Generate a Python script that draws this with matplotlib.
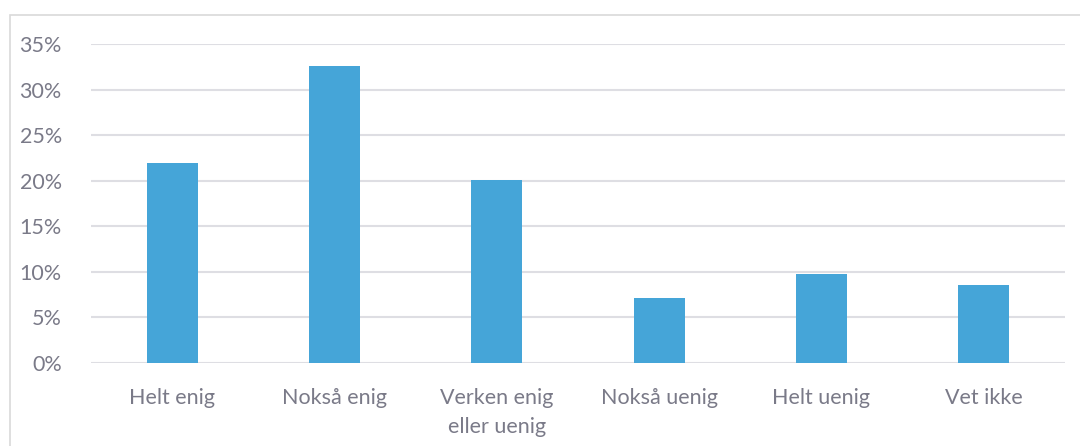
import matplotlib
matplotlib.use("Agg")
import matplotlib.pyplot as plt
from matplotlib.patches import Rectangle
from matplotlib.ticker import FuncFormatter, MultipleLocator

categories = ["Helt enig", "Nokså enig", "Verken enig\neller uenig", "Nokså uenig", "Helt uenig", "Vet ikke"]
values = [21.9, 32.6, 20.1, 7.1, 9.8, 8.6]

W, H = 1080, 446
fig = plt.figure(figsize=(W / 100, H / 100), dpi=100)
plt.rcParams['font.family'] = ['Lato', 'DejaVu Sans']

# chart border (partially cut off)
fig.patches.append(Rectangle((10 / W, -0.1), 1.2, 1 - 15 / H + 0.1, transform=fig.transFigure,
                             fill=False, edgecolor='#d9d9d9', linewidth=1.2))

ax = fig.add_axes([91 / W, 1 - 363 / H, (1065 - 91) / W, (363 - 44) / H])
x = list(range(len(categories)))
ax.bar(x, values, width=0.315, color='#45A5D8', zorder=3)
ax.set_xlim(-0.5, len(categories) - 0.5)
ax.set_ylim(0, 35)
ax.yaxis.set_major_locator(MultipleLocator(5))
ax.yaxis.set_major_formatter(FuncFormatter(lambda v, p: f"{int(round(v))}%"))
ax.grid(axis='y', color='#dedee3', linewidth=1.5, zorder=0)
for s in ax.spines.values():
    s.set_visible(False)
ax.tick_params(axis='both', length=0, colors='#7a7a88', labelsize=15.5)
ax.tick_params(axis='y', pad=21)
ax.tick_params(axis='x', pad=18)
ax.set_xticks(x)
ax.set_xticklabels(categories, linespacing=1.55)
fig.savefig("out.png", dpi=100)
